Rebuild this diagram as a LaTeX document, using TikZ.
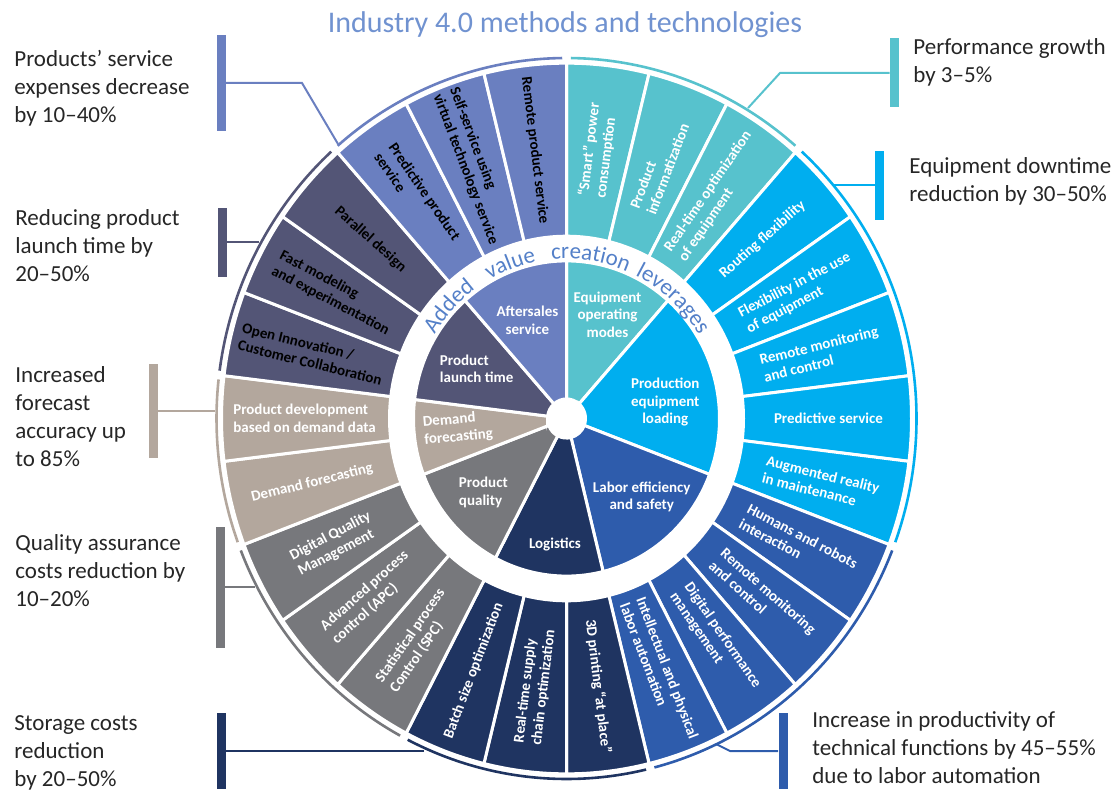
\documentclass[tikz,border=0pt]{standalone}
\usepackage{fontspec}
\setmainfont{Carlito}
\usetikzlibrary{decorations.text}

\definecolor{serviceblue}{RGB}{106,127,192}
\definecolor{launchslate}{RGB}{83,85,118}
\definecolor{demandtan}{RGB}{179,167,157}
\definecolor{qualitygray}{RGB}{119,120,124}
\definecolor{logisticsnavy}{RGB}{31,52,97}
\definecolor{laborblue}{RGB}{46,92,172}
\definecolor{loadingcyan}{RGB}{0,174,239}
\definecolor{modesteal}{RGB}{87,194,205}
\definecolor{calloutgray}{RGB}{38,38,38}
\definecolor{titleblue}{RGB}{112,146,208}
\definecolor{ringblue}{RGB}{84,128,200}

\newcommand{\calloutfont}{\fontsize{11.5pt}{14pt}\selectfont}
\newcommand{\wheelfont}{\fontsize{7.5pt}{8.8pt}\selectfont\bfseries}
\newcommand{\ringfont}{\fontsize{11.5pt}{13pt}\selectfont}

\tikzset{
  bar/.style={rectangle, fill=#1, inner sep=0pt, minimum width=4.5pt},
  link/.style={draw=#1, line width=1pt},
  callout/.style={anchor=north west, align=left, inner sep=0pt, text=calloutgray, font=\calloutfont},
  olabel/.style={align=left, inner sep=0pt, font=\wheelfont},
  ilabel/.style={align=center, inner sep=0pt, font=\wheelfont, text=white},
  wedge/.style={fill=#1, draw=white, line width=1.5pt},
  rim/.style={draw=#1, line width=1.3pt},
  ringword/.style={decorate, decoration={text along path, text align=center, text color=ringblue, text={|\ringfont|#1}}}
}

\begin{document}
\begin{tikzpicture}[x=0.5pt, y=0.5pt]
  \useasboundingbox (0,0) rectangle (1117,789);

  \node[font=\fontsize{15pt}{18pt}\selectfont, text=titleblue] at (565,764) (headline) {Industry 4.0 methods and technologies};

  \begin{scope}[shift={(566.5,370.5)}, yscale=1.03]
    \foreach \ga/\gb/\col in {0/3/modesteal, 3/8/loadingcyan, 8/12/laborblue, 12/15/logisticsnavy,
                               15/18/qualitygray, 18/20/demandtan, 20/23/launchslate, 23/26/serviceblue} {
      \pgfmathsetmacro\angA{90-\ga*360/26}
      \pgfmathsetmacro\angB{90-\gb*360/26}
      \pgfmathsetmacro\rimA{\angA-0.7}
      \pgfmathsetmacro\rimB{\angB+0.7}
      \path[wedge=\col] (\angA:19) -- (\angA:153) arc[start angle=\angA, end angle=\angB, radius=153]
        -- (\angB:19) arc[start angle=\angB, end angle=\angA, radius=19] -- cycle;
      \path[rim=\col] (\rimA:350) arc[start angle=\rimA, end angle=\rimB, radius=350];
    }

    \foreach \k/\col/\tcol/\txt in {
        0/modesteal/white/{“Smart” power\\consumption},
        1/modesteal/white/{Product\\informatization},
        2/modesteal/white/{Real-time optimization\\of equipment},
        3/loadingcyan/white/{Routing flexibility},
        4/loadingcyan/white/{Flexibility in the use\\of equipment},
        5/loadingcyan/white/{Remote monitoring\\and control},
        6/loadingcyan/white/{Predictive service},
        7/loadingcyan/white/{Augmented reality\\in maintenance},
        8/laborblue/white/{Humans and robots\\interaction},
        9/laborblue/white/{Remote monitoring\\and control},
        10/laborblue/white/{Digital performance\\management},
        11/laborblue/white/{Intellectual and physical\\labor automation},
        12/logisticsnavy/white/{3D printing “at place”},
        13/logisticsnavy/white/{Real-time supply\\chain optimization},
        14/logisticsnavy/white/{Batch size optimization},
        15/qualitygray/white/{Statistical process\\Control (SPC)},
        16/qualitygray/white/{Advanced process\\control (APC)},
        17/qualitygray/white/{Digital Quality\\Management},
        18/demandtan/white/{Demand forecasting},
        19/demandtan/white/{Product development\\based on demand data},
        20/launchslate/black/{Open Innovation /\\Customer Collaboration},
        21/launchslate/black/{Fast modeling\\and experimentation},
        22/launchslate/black/{Parallel design},
        23/serviceblue/black/{Predictive product\\service},
        24/serviceblue/black/{Self-service using\\virtual technology service},
        25/serviceblue/black/{Remote product service}} {
      \pgfmathsetmacro\angA{90-\k*360/26}
      \pgfmathsetmacro\angB{90-(\k+1)*360/26}
      \pgfmathsetmacro\angM{90-(\k+0.5)*360/26}
      \pgfmathsetmacro\turn{\angM<-90 ? \angM+180 : \angM}
      \path[wedge=\col] (\angA:177) -- (\angA:345) arc[start angle=\angA, end angle=\angB, radius=345]
        -- (\angB:177) arc[start angle=\angB, end angle=\angA, radius=177] -- cycle;
      \node[olabel, text=\tcol, rotate=\turn] at (\angM:262) (lever\k) {\txt};
    }

    \path[ringword=Added] (165:155) arc[start angle=165, end angle=109, radius=155];
    \path[ringword=value] (138.4:155) arc[start angle=138.4, end angle=82.4, radius=155];
    \path[ringword=creation] (109.3:155) arc[start angle=109.3, end angle=53.3, radius=155];
    \path[ringword=leverages] (75.6:155) arc[start angle=75.6, end angle=19.6, radius=155];

    \node[ilabel] at (67.9:109) (modes) {Equipment\\operating\\modes};
    \node[ilabel] at (9:100) (loading) {Production\\equipment\\loading};
    \node[ilabel] at (-45.3:107) (labor) {Labor efficiency\\and safety};
    \node[ilabel] at (264.6:123) (logistics) {Logistics};
    \node[ilabel, align=left] at (220.9:110) (quality) {Product\\quality};
    \node[ilabel, align=left, rotate=5] at (185.1:109) (demand) {Demand\\forecasting};
    \node[ilabel, align=left] at (151.7:102) (launch) {Product\\launch time};
    \node[ilabel] at (112.3:103) (aftersales) {Aftersales\\service};
  \end{scope}

  \node[bar=serviceblue, minimum height=47.5pt] at (221,706) (bar1) {};
  \node[bar=launchslate, minimum height=34.5pt] at (222,547) (bar2) {};
  \node[bar=demandtan, minimum height=47pt] at (153.5,378) (bar3) {};
  \node[bar=qualitygray, minimum height=60.5pt] at (220.5,202) (bar4) {};
  \node[bar=logisticsnavy, minimum height=38pt] at (221,38) (bar5) {};
  \node[bar=modesteal, minimum height=34.5pt] at (894.5,716) (bar6) {};
  \node[bar=loadingcyan, minimum height=34.5pt] at (879.5,604) (bar7) {};
  \node[bar=laborblue, minimum height=38pt] at (783,38) (bar8) {};

  \coordinate (rim1) at (338,645);
  \coordinate (knee1) at (302,706);
  \coordinate (rim2) at (259,547);
  \coordinate (rim3) at (215,378);
  \coordinate (rim4) at (255,202);
  \coordinate (rim5) at (424,38);
  \coordinate (rim6) at (748,681);
  \coordinate (knee6) at (780,716);
  \coordinate (rim7) at (834,604);
  \coordinate (rim8) at (716,45);
  \coordinate (knee8) at (730,38);

  \draw[link=serviceblue] (rim1) -- (knee1) -- (bar1);
  \draw[link=launchslate] (rim2) -- (bar2);
  \draw[link=demandtan] (rim3) -- (bar3);
  \draw[link=qualitygray] (rim4) -- (bar4);
  \draw[link=logisticsnavy] (rim5) -- (bar5);
  \draw[link=modesteal] (rim6) -- (knee6) -- (bar6);
  \draw[link=loadingcyan] (rim7) -- (bar7);
  \draw[link=laborblue] (rim8) -- (knee8) -- (bar8);

  \node[callout] at (14,739) (gain1) {Products’ service\\expenses decrease\\by 10–40\%};
  \node[callout] at (15,580) (gain2) {Reducing product\\launch time by\\20–50\%};
  \node[callout] at (15,423) (gain3) {Increased\\forecast\\accuracy up\\to 85\%};
  \node[callout] at (15,255) (gain4) {Quality assurance\\costs reduction by\\10–20\%};
  \node[callout] at (14,74) (gain5) {Storage costs\\reduction\\by 20–50\%};
  \node[callout] at (913,751) (gain6) {Performance growth\\by 3–5\%};
  \node[callout] at (909,632) (gain7) {Equipment downtime\\reduction by 30–50\%};
  \node[callout] at (812,78) (gain8) {Increase in productivity of\\technical functions by 45–55\%\\due to labor automation};
\end{tikzpicture}
\end{document}
